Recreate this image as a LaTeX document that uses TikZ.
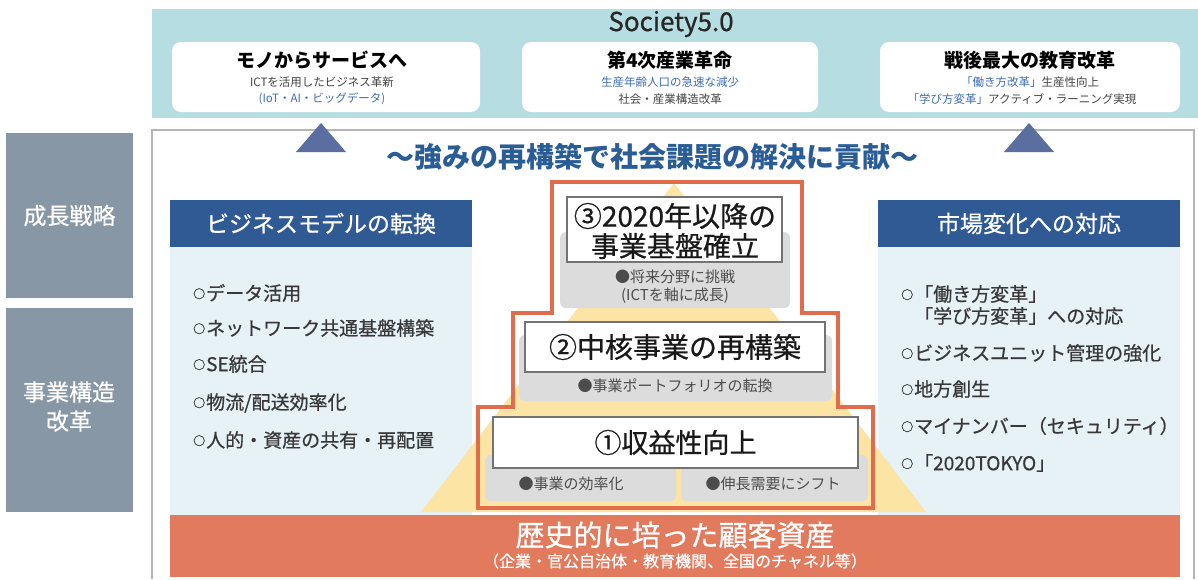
\documentclass[tikz,border=0pt]{standalone}
\usepackage{fontspec}
\setmainfont{Noto Sans CJK JP}
\newfontfamily\medfont{Noto Sans CJK JP}[FakeBold=0.7]
\definecolor{bandteal}{HTML}{B6DDE1}
\definecolor{tri}{HTML}{5A6E9F}
\definecolor{lbl}{HTML}{8797A6}
\definecolor{hdr}{HTML}{2F5A94}
\definecolor{body}{HTML}{E7F2F7}
\definecolor{orng}{HTML}{E27A5D}
\definecolor{stair}{HTML}{E06C4B}
\definecolor{ylw}{HTML}{FBE4A4}
\definecolor{gblk}{HTML}{DCDCDC}
\definecolor{ttl}{HTML}{2A5C96}
\definecolor{subblue}{HTML}{3D6DB5}
\definecolor{subdark}{HTML}{444444}
\definecolor{frm}{HTML}{B5B5B5}
\newcommand{\fsz}[1]{\fontsize{#1pt}{#1pt}\selectfont}
\newcommand{\smcirc}{{\fontsize{12pt}{12pt}\selectfont\raisebox{2pt}{○}}\kern1pt}
\tikzset{
  rbox/.style={anchor=north west, inner sep=0pt, outer sep=0pt},
  wbox/.style={rbox, fill=white, rounded corners=9pt},
  lblbox/.style={rbox, fill=lbl},
  hdrbox/.style={rbox, fill=hdr},
  bodybox/.style={rbox, fill=body},
  greyblk/.style={rbox, fill=gblk, rounded corners=6pt},
  tierbox/.style={rbox, fill=white, draw=black!55, line width=1.1pt},
  boxtitle/.style={font=\fsz{19}\bfseries, text=black},
  boxsub/.style={font=\fsz{11.5}, text=subdark},
  item/.style={anchor=west, font=\fsz{19}\medfont, text=black!78, inner sep=0pt},
  tiertxt/.style={font=\fsz{28}\medfont, text=black!90, inner sep=0pt},
  greytxt/.style={font=\fsz{15}, text=black!70, inner sep=0pt},
  uptri/.style={fill=tri, draw=none}
}
\begin{document}
\begin{tikzpicture}[x=1pt,y=-1pt]
\useasboundingbox (0,0) rectangle (1198,579);
\fill[white] (0,0) rectangle (1198,579);

% top band
\node[rbox, fill=bandteal, minimum width=1046pt, minimum height=109pt] (band) at (152,9) {};
\node[font=\fsz{26}\medfont, text=black!85, inner sep=0pt] (soctitle) at (671,24) {Society5.0};
\node[wbox, minimum width=308pt, minimum height=70pt] (b1) at (172,42) {};
\node[wbox, minimum width=296pt, minimum height=70pt] (b2) at (522,42) {};
\node[wbox, minimum width=300pt, minimum height=70pt] (b3) at (880,42) {};
\node[boxtitle] (b1t) at (322,60) {モノからサービスへ};
\node[boxsub] (b1s1) at (322,82) {ICTを活用したビジネス革新};
\node[boxsub, text=subblue] (b1s2) at (322,99) {(IoT・AI・ビッグデータ)};
\node[boxtitle] (b2t) at (670,60) {第4次産業革命};
\node[boxsub, text=subblue] (b2s1) at (670,82) {生産年齢人口の急速な減少};
\node[boxsub] (b2s2) at (670,99) {社会・産業構造改革};
\node[boxtitle] (b3t) at (1030,60) {戦後最大の教育改革};
\node[boxsub] (b3s1) at (1030,82) {\textcolor{subblue}{「働き方改革」}生産性向上};
\node[boxsub] (b3s2) at (1022,99) {\textcolor{subblue}{「学び方変革」}アクティブ・ラーニング実現};

% left labels
\node[lblbox, minimum width=127pt, minimum height=165pt] (gs) at (6,133) {};
\node[font=\fsz{23}\medfont, text=white] (gst) at (gs.center) {成長戦略};
\node[lblbox, minimum width=127pt, minimum height=204pt] (kz) at (6,308) {};
\node[font=\fsz{23}\medfont, text=white, inner sep=0pt] (kzt1) at (69,392) {事業構造};
\node[font=\fsz{23}\medfont, text=white, inner sep=0pt] (kzt2) at (69,421) {改革};

% main frame
\draw[frm, line width=1.2pt] (152,579) -- (152,130) -- (1194,130) -- (1194,579);

% title
\node[font=\fsz{28}\bfseries, text=ttl] (title) at (652,157) {〜強みの再構築で社会課題の解決に貢献〜};

% left panel
\node[hdrbox, minimum width=302pt, minimum height=47pt] (lh) at (170,200) {};
\node[font=\fsz{23}\medfont, text=white] (lht) at (lh.center) {ビジネスモデルの転換};
\node[bodybox, minimum width=302pt, minimum height=268pt] (lb) at (170,247) {};
\node[item] (l1) at (193,293) {\smcirc データ活用};
\node[item] (l2) at (193,328) {\smcirc ネットワーク共通基盤構築};
\node[item] (l3) at (193,364) {\smcirc SE統合};
\node[item] (l4) at (193,403) {\smcirc 物流/配送効率化};
\node[item] (l5) at (193,440) {\smcirc 人的・資産の共有・再配置};

% right panel
\node[hdrbox, minimum width=302pt, minimum height=47pt] (rh) at (878,200) {};
\node[font=\fsz{23}\medfont, text=white] (rht) at (rh.center) {市場変化への対応};
\node[bodybox, minimum width=302pt, minimum height=268pt] (rb) at (878,247) {};
\node[item] (r1) at (901,294) {\smcirc「働き方変革」};
\node[item] (r1b) at (901,316) {\phantom{\smcirc}「学び方変革」への対応};
\node[item] (r2) at (901,353) {\smcirc ビジネスユニット管理の強化};
\node[item] (r3) at (901,389) {\smcirc 地方創生};
\node[item] (r4) at (901,426) {\smcirc マイナンバー（セキュリティ）};
\node[item] (r5) at (901,463) {\smcirc「2020TOKYO」};

% pointers to band
\fill[uptri] (321,123) -- (346,152) -- (296,152) -- cycle;
\fill[uptri] (1029,123) -- (1054,152) -- (1004,152) -- cycle;

% yellow pyramid
\fill[ylw] (674,183) -- (926,512) -- (421,512) -- cycle;

% bottom band
\node[rbox, fill=orng, minimum width=1010pt, minimum height=62pt] (base) at (170,515) {};
\node[font=\fsz{29}\medfont, text=white, inner sep=0pt] (baset) at (675,535) {歴史的に培った顧客資産};
\node[font=\fsz{16}\medfont, text=white, inner sep=0pt] (bases) at (675,561) {（企業・官公自治体・教育機関、全国のチャネル等）};

% tier 3
\node[greyblk, minimum width=230pt, minimum height=76pt] (g3) at (560,232) {};
\node[tierbox, minimum width=215pt, minimum height=65pt] (t3) at (567,197) {};
\node[tiertxt] (t3a) at (675,216) {③2020年以降の};
\node[tiertxt] (t3b) at (675,246) {事業基盤確立};
\node[greytxt] (t3c) at (675,277) {●将来分野に挑戦};
\node[greytxt] (t3d) at (675,296) {(ICTを軸に成長)};

% tier 2
\node[greyblk, minimum width=313pt, minimum height=66pt] (g2) at (519,335) {};
\node[tierbox, minimum width=300pt, minimum height=50pt] (t2) at (525,322) {};
\node[tiertxt] (t2a) at (t2.center) {②中核事業の再構築};
\node[greytxt] (t2c) at (675,386) {●事業ポートフォリオの転換};

% tier 1
\node[greyblk, minimum width=191pt, minimum height=46pt] (g1a) at (485,455) {};
\node[greyblk, minimum width=187pt, minimum height=46pt] (g1b) at (681,455) {};
\node[tierbox, minimum width=365pt, minimum height=51pt] (t1) at (493,417) {};
\node[tiertxt, font=\fsz{27}\medfont] (t1a) at (t1.center) {①収益性向上};
\node[greytxt] (t1c) at (571,484) {●事業の効率化};
\node[greytxt] (t1d) at (773,484) {●伸長需要にシフト};

% stair outline
\draw[stair, line width=4.5pt, line join=miter]
  (478,508) -- (478,407) -- (513,407) -- (513,313) -- (552,313) -- (552,182)
  -- (802,182) -- (802,313) -- (838,313) -- (838,407) -- (873,407) -- (873,508) -- cycle;
\end{tikzpicture}
\end{document}
